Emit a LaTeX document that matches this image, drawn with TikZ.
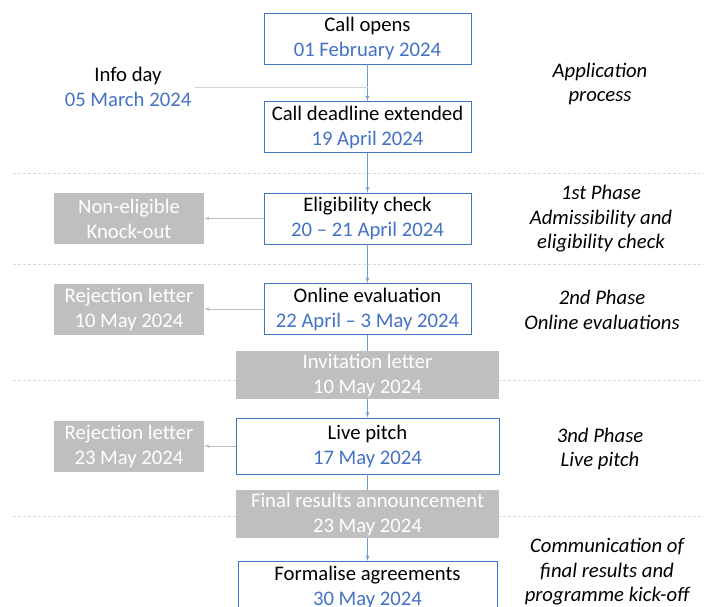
\documentclass[tikz,border=0pt]{standalone}
\usepackage{fontspec}
\setmainfont{Carlito}
\usetikzlibrary{arrows}
\definecolor{boxblue}{HTML}{4472C4}
\definecolor{lineblue}{HTML}{739AD8}
\definecolor{greybox}{HTML}{BFBFBF}
\definecolor{sepgrey}{HTML}{D9D9D9}
\newcommand{\when}[1]{\textcolor{boxblue}{#1}}

\begin{document}
\begin{tikzpicture}[x=1pt,y=-1pt]
        \tikzset{stage/.style = {shape=rectangle,draw=boxblue,line width=0.9pt,fill=white,
                minimum width=207pt,minimum height=51pt,inner sep=0pt,align=center,
                font=\fontsize{20.7}{25}\selectfont}}
        \tikzset{wide/.style = {minimum width=263pt}}
        \tikzset{outcome/.style = {shape=rectangle,fill=greybox,text=white,minimum width=150pt,
                minimum height=51pt,inner sep=0pt,align=center,font=\fontsize{20.7}{25}\selectfont}}
        \tikzset{phase/.style = {align=center,font=\fontsize{20.7}{24.5}\selectfont\itshape}}
        \tikzset{edge/.style = {->,> = latex',draw=lineblue,line width=0.9pt}}
        \tikzset{plain/.style = {draw=lineblue,line width=0.9pt}}
        \tikzset{reject/.style = {->,> = latex',draw=greybox,line width=0.8pt}}

        \useasboundingbox (0,0) rectangle (704,607);

        % separators
        \foreach \y in {173,264,380,516}
            \draw[sepgrey,line width=0.8pt,dash pattern=on 3pt off 2pt] (13,\y) -- (704,\y);

        % vertices
        \node[stage] (open) at (367.5,38.5) {Call opens\\\when{01 February 2024}};
        \node[stage] (deadline) at (367.5,127) {Call deadline extended\\\when{19 April 2024}};
        \node[align=center,font=\fontsize{20.7}{25}\selectfont] (info) at (128,87) {Info day\\\when{05 March 2024}};
        \coordinate (infojoin) at (367.5,87);
        \node[stage] (check) at (367.5,218.5) {Eligibility check\\\when{20 -- 21 April 2024}};
        \node[outcome] (knockout) at (129,218.5) {Non-eligible\\Knock-out};
        \node[stage] (online) at (367.5,309) {Online evaluation\\\when{22 April -- 3 May 2024}};
        \node[outcome] (reject1) at (129,309) {Rejection letter\\10 May 2024};
        \node[outcome,wide,minimum height=48pt] (invite) at (367.5,375) {Invitation letter\\10 May 2024};
        \node[stage,wide,minimum height=56pt] (pitch) at (367.5,446) {Live pitch\\\when{17 May 2024}};
        \node[outcome] (reject2) at (129,446) {Rejection letter\\23 May 2024};
        \node[outcome,wide,minimum height=48pt] (final) at (367.5,514) {Final results announcement\\23 May 2024};
        \node[stage,minimum width=259pt] (agree) at (367.5,587) {Formalise agreements\\\when{30 May 2024}};

        \node[phase] (p0) at (600,84) {Application\\process};
        \node[phase] (p1) at (601,219) {1st Phase\\Admissibility and\\eligibility check};
        \node[phase] (p2) at (602,310) {2nd Phase\\Online evaluations};
        \node[phase] (p3) at (600,449) {3nd Phase\\Live pitch};
        \node[phase] (p4) at (607,572) {Communication of\\final results and\\programme kick-off};

        %edges
        \draw[edge] (open) to (deadline);
        \draw[plain,draw=greybox!70] (info.east) to (infojoin);
        \draw[edge] (deadline) to (check);
        \draw[edge] (check) to (online);
        \draw[plain] (online) to (invite);
        \draw[edge] (invite) to (pitch);
        \draw[plain] (pitch) to (final);
        \draw[edge] (final) to (agree);
        \draw[reject] (check) to (knockout);
        \draw[reject] (online) to (reject1);
        \draw[reject] (pitch) to (reject2);

    \end{tikzpicture}
\end{document}
